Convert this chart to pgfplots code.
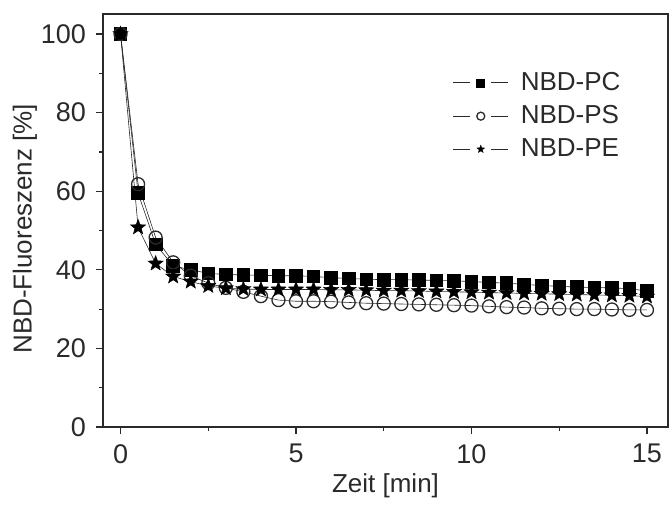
\documentclass[border=0pt]{standalone}
\usepackage{pgfplots}
\pgfplotsset{compat=1.18}
\usepackage{fontspec}
\setmainfont{Liberation Sans}
\usetikzlibrary{plotmarks}
\definecolor{ax}{HTML}{2A2A2A}
\pgfdeclareplotmark{fstar}{%
  \pgfpathmoveto{\pgfqpointpolar{90}{\pgfplotmarksize}}%
  \pgfpathlineto{\pgfqpointpolar{126}{0.42\pgfplotmarksize}}%
  \pgfpathlineto{\pgfqpointpolar{162}{\pgfplotmarksize}}%
  \pgfpathlineto{\pgfqpointpolar{198}{0.42\pgfplotmarksize}}%
  \pgfpathlineto{\pgfqpointpolar{234}{\pgfplotmarksize}}%
  \pgfpathlineto{\pgfqpointpolar{270}{0.42\pgfplotmarksize}}%
  \pgfpathlineto{\pgfqpointpolar{306}{\pgfplotmarksize}}%
  \pgfpathlineto{\pgfqpointpolar{342}{0.42\pgfplotmarksize}}%
  \pgfpathlineto{\pgfqpointpolar{18}{\pgfplotmarksize}}%
  \pgfpathlineto{\pgfqpointpolar{54}{0.42\pgfplotmarksize}}%
  \pgfpathclose
  \pgfusepathqfillstroke}
\begin{document}
\fontsize{27bp}{32bp}\selectfont
\begin{tikzpicture}
\useasboundingbox (-103bp,-78bp) rectangle (568bp,427bp);
\begin{axis}[
  scale only axis,
  width=565bp, height=413bp,
  xmin=-0.5, xmax=15.6,
  ymin=0, ymax=105.1,
  axis line style={ax, line width=1.4bp},
  xtick={0,5,10,15}, ytick={0,20,40,60,80,100},
  minor xtick={2.5,7.5,12.5}, minor ytick={10,30,50,70,90},
  tick align=outside,
  xtick pos=bottom, ytick pos=left,
  major tick length=7bp, minor tick length=4bp,
  every tick/.style={ax, line width=1.2bp},
  tick label style={font=\fontsize{27bp}{32bp}\selectfont, text=ax},
  /pgf/number format/assume math mode=true,
  xticklabel style={yshift=-1bp},
  yticklabel style={xshift=-1bp},
  xlabel={Zeit [min]},
  ylabel={NBD-Fluoreszenz [\%]},
  label style={font=\fontsize{26bp}{31bp}\selectfont, text=ax},
  xlabel style={at={(axis description cs:0.5,-0.142)}, anchor=center},
  ylabel style={at={(axis description cs:-0.138,0.48)}, anchor=center, rotate=0},
  legend style={draw=none, fill=none, at={(0.925,0.87)}, anchor=north east,
    font=\fontsize{26bp}{31bp}\selectfont, text=ax, row sep=7bp,
    /tikz/every odd column/.append style={column sep=10bp}},
  legend cell align=left,
  legend image code/.code={
    \draw[#1, mark=none, line width=1bp] (0bp,0bp) -- (17bp,0bp);
    \draw[#1, mark=none, line width=1bp] (38bp,0bp) -- (55bp,0bp);
    \draw[#1, mark size=4bp] plot coordinates {(27.5bp,0bp)};
  },
]
\addplot[ax, line width=0.6bp, mark=square*, mark size=6.3bp, mark options={fill=black, draw=black, solid, line width=0.8bp}] coordinates {
(0,100)(0.5,59.5)(1,46.5)(1.5,41)(2,40)(2.5,39.1)(3,38.8)(3.5,38.7)(4,38.6)(4.5,38.5)(5,38.5)(5.5,38.3)(6,38)(6.5,37.8)(7,37.6)(7.5,37.5)(8,37.5)(8.5,37.4)(9,37.3)(9.5,37.2)(10,37)(10.5,36.8)(11,36.6)(11.5,36.3)(12,36)(12.5,35.8)(13,35.6)(13.5,35.5)(14,35.4)(14.5,35.2)(15,34.6)};
\addlegendentry{NBD-PC}
\addplot[ax, line width=0.6bp, mark=o, mark size=6.5bp, mark options={fill=white, draw=ax, solid, line width=1.3bp}] coordinates {
(0,100)(0.5,61.8)(1,48.2)(1.5,41.9)(2,38.5)(2.5,36.6)(3,35.4)(3.5,34.4)(4,33.3)(4.5,32.3)(5,32)(5.5,32)(6,31.9)(6.5,31.7)(7,31.5)(7.5,31.4)(8,31.3)(8.5,31.2)(9,31.1)(9.5,31)(10,30.9)(10.5,30.7)(11,30.5)(11.5,30.4)(12,30.2)(12.5,30.1)(13,30)(13.5,30)(14,29.9)(14.5,29.8)(15,29.8)};
\addlegendentry{NBD-PS}
\addplot[ax, line width=0.6bp, mark=fstar, mark size=8bp, mark options={fill=black, draw=black, solid, line width=0.4bp}] coordinates {
(0,100)(0.5,50.8)(1,41.6)(1.5,38.3)(2,37)(2.5,35.9)(3,35.3)(3.5,35.1)(4,35)(4.5,35)(5,35)(5.5,35)(6,34.9)(6.5,34.9)(7,34.8)(7.5,34.7)(8,34.7)(8.5,34.6)(9,34.5)(9.5,34.4)(10,34.3)(10.5,34.2)(11,34.1)(11.5,34)(12,33.9)(12.5,33.8)(13,33.7)(13.5,33.6)(14,33.5)(14.5,33.4)(15,33.2)};
\addlegendentry{NBD-PE}
\end{axis}
\end{tikzpicture}
\end{document}
